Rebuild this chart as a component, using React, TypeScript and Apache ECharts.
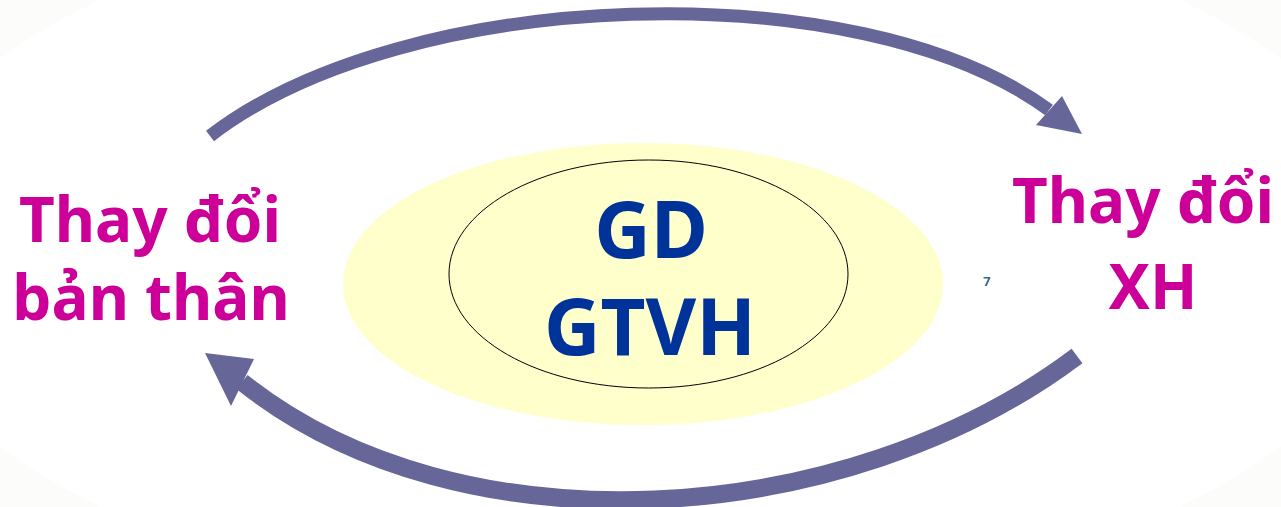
import React, { useEffect, useRef } from "react";
import * as echarts from "echarts";

const leftLabel = ["Thay đổi", "bản thân"];
const rightLabel = ["Thay đổi", "XH"];
const centerLabel = ["GD", "GTVH"];
const pageNumber = "7";

const W = 1281;
const H = 507;

const ARROW = "#666699";
const MAGENTA = "#CC0099";
const BLUE = "#003399";

export default function App() {
  const ref = useRef<HTMLDivElement>(null);
  useEffect(() => {
    const chart = echarts.init(ref.current!, null, { renderer: "svg", width: W, height: H });
    const magentaFont = { fontFamily: "'Noto Sans', sans-serif", fontWeight: "bold", fontSize: 62 };
    const blueFont = { fontFamily: "'Noto Sans', sans-serif", fontWeight: "bold", fontSize: 78 };
    const elements: any[] = [
      { type: "rect", shape: { x: 0, y: 0, width: W, height: H }, style: { fill: "#fcfcfb" }, z: 0 },
      { type: "ellipse", shape: { cx: 640, cy: 253, rx: 760, ry: 360 }, style: { fill: "#ffffff" }, z: 1 },
      { type: "ellipse", shape: { cx: 643, cy: 284, rx: 300, ry: 141 }, style: { fill: "#FFFFCC" }, z: 2 },
      { type: "ellipse", shape: { cx: 648.5, cy: 274, rx: 199.5, ry: 114 }, style: { fill: null, stroke: "#000000", lineWidth: 1 }, z: 3 },
      {
        type: "bezierCurve",
        shape: { x1: 210, y1: 136, cpx1: 405, cpy1: -14, cpx2: 858, cpy2: -30, x2: 1049, y2: 110 },
        style: { fill: null, stroke: ARROW, lineWidth: 13, lineCap: "butt" },
        z: 4,
      },
      { type: "polygon", shape: { points: [[1036, 125], [1062, 96], [1082, 134]] }, style: { fill: ARROW }, z: 4 },
      {
        type: "bezierCurve",
        shape: { x1: 1077, y1: 356, cpx1: 846, cpy1: 530, cpx2: 460, cpy2: 556, x2: 242, y2: 382 },
        style: { fill: null, stroke: ARROW, lineWidth: 18, lineCap: "butt" },
        z: 4,
      },
      { type: "polygon", shape: { points: [[254, 359], [231, 406], [205, 353]] }, style: { fill: ARROW }, z: 4 },
      { type: "text", x: 150, y: 218, style: { text: leftLabel[0], fill: MAGENTA, textAlign: "center", textVerticalAlign: "middle", ...magentaFont }, z: 5 },
      { type: "text", x: 151, y: 296, style: { text: leftLabel[1], fill: MAGENTA, textAlign: "center", textVerticalAlign: "middle", ...magentaFont }, z: 5 },
      { type: "text", x: 1143, y: 199, style: { text: rightLabel[0], fill: MAGENTA, textAlign: "center", textVerticalAlign: "middle", ...magentaFont }, z: 5 },
      { type: "text", x: 1153, y: 285, style: { text: rightLabel[1], fill: MAGENTA, textAlign: "center", textVerticalAlign: "middle", ...magentaFont }, z: 5 },
      { type: "text", x: 651, y: 228, style: { text: centerLabel[0], fill: BLUE, textAlign: "center", textVerticalAlign: "middle", ...blueFont }, z: 5 },
      { type: "text", x: 650, y: 325, style: { text: centerLabel[1], fill: BLUE, textAlign: "center", textVerticalAlign: "middle", ...blueFont }, z: 5 },
      { type: "text", x: 987, y: 281, style: { text: pageNumber, fill: "#3A6A80", textAlign: "center", textVerticalAlign: "middle", fontFamily: "'Noto Sans', sans-serif", fontWeight: "bold", fontSize: 13 }, z: 5 },
    ];
    chart.setOption({ animation: false, graphic: { elements } });
    return () => chart.dispose();
  }, []);
  return <div ref={ref} style={{ position: "fixed", left: 0, top: 0, width: W, height: H }} />;
}
